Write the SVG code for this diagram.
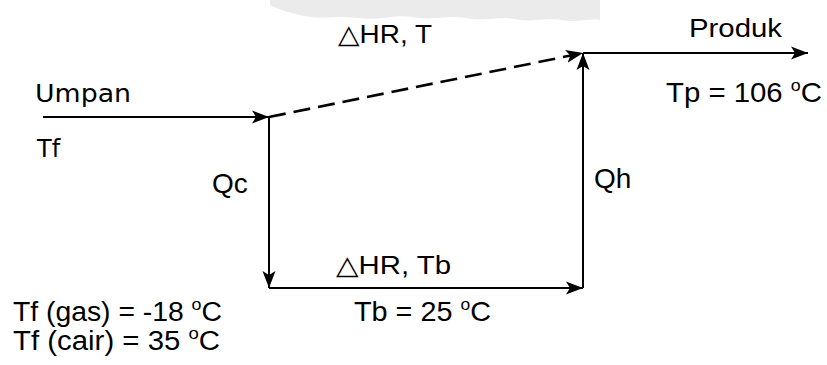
<svg xmlns="http://www.w3.org/2000/svg" width="827" height="365" viewBox="0 0 827 365">
<style>
.t{font-family:"Liberation Sans",Arial,sans-serif;fill:#000}
.s26{font-size:26px}
.s28{font-size:28px}
.s27{font-size:27px}
.dv{font-family:"DejaVu Sans",Verdana,sans-serif;font-size:24px;fill:#000}
.ln{stroke:#000;stroke-width:2;fill:none}
.dash{stroke:#000;stroke-width:2.6;fill:none;stroke-dasharray:17 8}
</style>
<defs>
<marker id="ah" markerUnits="userSpaceOnUse" markerWidth="18" markerHeight="14" refX="17" refY="7" orient="auto" viewBox="0 0 18 14">
<path d="M0,0.5 L17,7 L0,13.5 L4,7 z" fill="#000"/>
</marker>
</defs>
<g id="watermark" fill="#ebebeb">
<path d="M270,0 L600,0 L600,20 C588,18 578,23 562,20 C548,17 532,23 515,19 C498,16 484,22 466,18 C448,15 432,21 412,17 C394,14 378,21 358,18 C340,15 322,20 304,16 C290,13 280,10 270,5 z"/>
</g>
<g id="connectors">
<line class="ln" x1="43" y1="117" x2="269" y2="117" marker-end="url(#ah)"/>
<line class="dash" x1="269" y1="117" x2="583" y2="53" marker-end="url(#ah)"/>
<line class="ln" x1="583" y1="53" x2="808" y2="53" marker-end="url(#ah)"/>
<line class="ln" x1="269" y1="117" x2="269" y2="288" marker-end="url(#ah)"/>
<line class="ln" x1="269" y1="288" x2="583" y2="288" marker-end="url(#ah)"/>
<line class="ln" x1="583" y1="288" x2="583" y2="53" marker-end="url(#ah)"/>
</g>
<g id="feed">
<text class="dv" x="35" y="102" textLength="96" lengthAdjust="spacingAndGlyphs">Umpan</text>
<text class="dv" x="37" y="157">Tf</text>
</g>
<g id="reaction-top">
<text class="t s26" x="338" y="43" textLength="94" lengthAdjust="spacingAndGlyphs">△HR, T</text>
</g>
<g id="product">
<text class="t s26" x="689" y="37" textLength="93" lengthAdjust="spacingAndGlyphs">Produk</text>
<text class="t s28" x="666" y="102" textLength="156" lengthAdjust="spacingAndGlyphs">Tp = 106 <tspan font-size="17" dy="-11">o</tspan><tspan dy="11">C</tspan></text>
</g>
<g id="cooling">
<text class="t s28" x="212" y="193">Qc</text>
</g>
<g id="heating">
<text class="t s28" x="594" y="188">Qh</text>
</g>
<g id="reaction-base">
<text class="t s26" x="336" y="274" textLength="115" lengthAdjust="spacingAndGlyphs">△HR, Tb</text>
<text class="t s28" x="354" y="321" textLength="137" lengthAdjust="spacingAndGlyphs">Tb = 25 <tspan font-size="17" dy="-11">o</tspan><tspan dy="11">C</tspan></text>
</g>
<g id="feed-temps">
<text class="t s27" x="13" y="321" textLength="209" lengthAdjust="spacingAndGlyphs">Tf (gas) = -18 <tspan font-size="17" dy="-11">o</tspan><tspan dy="11">C</tspan></text>
<text class="t s27" x="13" y="350" textLength="207" lengthAdjust="spacingAndGlyphs">Tf (cair) = 35 <tspan font-size="17" dy="-11">o</tspan><tspan dy="11">C</tspan></text>
</g>
</svg>
